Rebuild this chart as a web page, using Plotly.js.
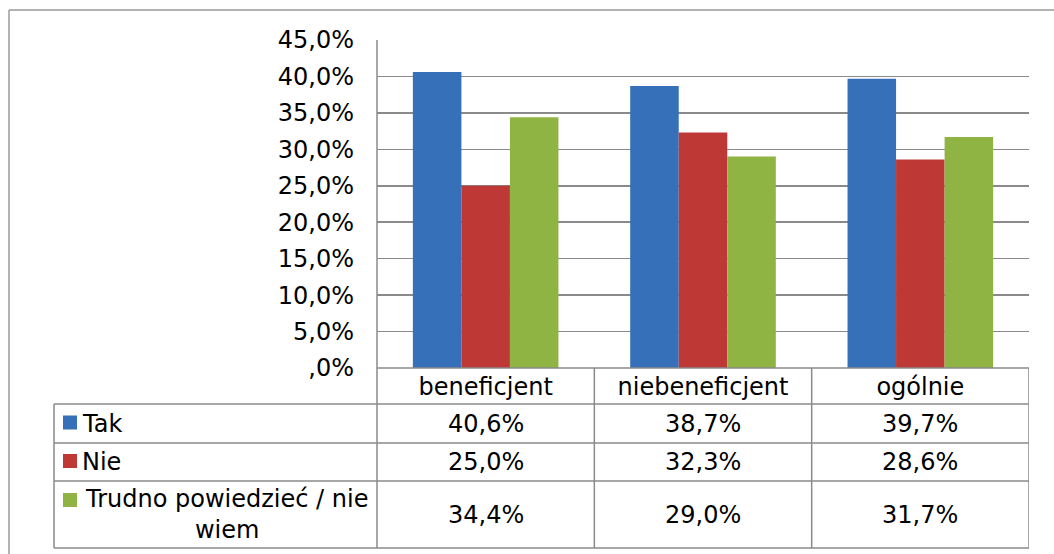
<!DOCTYPE html>
<html>
<head>
<meta charset="utf-8">
<script src="https://cdn.plot.ly/plotly-3.0.1.min.js"></script>
<style>html,body{margin:0;padding:0;background:#fff;}#chart{width:1054px;height:554px;}</style>
</head>
<body>
<div id="chart"></div>
<script>
// ---- data ----
const categories = ["beneficjent", "niebeneficjent", "ogólnie"];
const seriesNames = ["Tak", "Nie", "Trudno powiedzieć / nie<br>wiem"];
const takValues = [40.6, 38.7, 39.7];
const nieValues = [25.0, 32.3, 28.6];
const trudnoValues = [34.4, 29.0, 31.7];
const yTickVals = [0, 5, 10, 15, 20, 25, 30, 35, 40, 45];
const yTickText = [",0%", "5,0%", "10,0%", "15,0%", "20,0%", "25,0%", "30,0%", "35,0%", "40,0%", "45,0%"];

// ---- styling ----
const colors = ["#3670B9", "#BE3835", "#8FB444"];
const lineColor = "#8a8a8a";
const font = "DejaVu Sans, Verdana, sans-serif";
const fs = 24;

const W = 1054, H = 554;
const M = {l: 377, r: 25, t: 40, b: 186};
const pw = W - M.l - M.r, ph = H - M.t - M.b;
const px = x => (x - M.l) / pw;           // pixel -> paper x
const py = y => (H - M.b - y) / ph;        // pixel -> paper y

const allSeries = [takValues, nieValues, trudnoValues];
const traces = allSeries.map((vals, i) => ({
  type: "bar",
  x: categories,
  y: vals,
  name: seriesNames[i],
  marker: {color: colors[i], line: {width: 0}},
  hoverinfo: "skip"
}));

// table geometry (pixels)
const tblLeft = 54, headerTop = 368, rowTops = [404, 443, 481], tblBottom = 548;
const rowBottoms = [443, 481, 548];

const shapes = [];
const hline = (y, x0, x1) => shapes.push({type: "line", xref: "paper", yref: "paper", x0: px(x0), x1: px(x1), y0: py(y), y1: py(y), line: {color: lineColor, width: 1.5}});
// outer chart frame (top + left)
shapes.push({type: "line", xref: "paper", yref: "paper", x0: px(9), x1: px(1060), y0: py(10), y1: py(10), line: {color: "#9a9a9a", width: 1.5}});
shapes.push({type: "line", xref: "paper", yref: "paper", x0: px(9), x1: px(9), y0: py(10), y1: py(560), line: {color: "#9a9a9a", width: 1.5}});
// table horizontal lines
hline(headerTop, M.l, W - M.r);
rowTops.forEach(y => hline(y, tblLeft, W - M.r));
hline(tblBottom, tblLeft, W - M.r);
// vertical lines
shapes.push({type: "line", xref: "paper", yref: "paper", x0: px(tblLeft), x1: px(tblLeft), y0: py(rowTops[0]), y1: py(tblBottom), line: {color: lineColor, width: 1.5}});
shapes.push({type: "line", xref: "paper", yref: "paper", x0: 0, x1: 0, y0: 1, y1: py(tblBottom), line: {color: lineColor, width: 1.5}});
[0.5, 1.5, 2.5].forEach(xv => shapes.push({type: "line", xref: "x", yref: "paper", x0: xv, x1: xv, y0: 0, y1: py(tblBottom), line: {color: lineColor, width: 1.5}}));

const annotations = [];
const fmt = v => v.toFixed(1).replace(".", ",") + "%";
const rowCenters = rowTops.map((t, i) => (t + rowBottoms[i]) / 2);
allSeries.forEach((vals, i) => {
  vals.forEach((v, j) => {
    annotations.push({xref: "x", yref: "paper", x: categories[j], y: py(rowCenters[i]), text: fmt(v), showarrow: false, xanchor: "center", yanchor: "middle", font: {family: font, size: fs, color: "#000"}});
  });
  // legend key squares
  const sqC = i < 2 ? rowCenters[i] - 1 : 500;
  shapes.push({type: "rect", xref: "paper", yref: "paper", x0: px(63), x1: px(77), y0: py(sqC - 7), y1: py(sqC + 7), fillcolor: colors[i], line: {width: 0}});
});
// legend labels
annotations.push({xref: "paper", yref: "paper", x: px(80), y: py(rowCenters[0]), text: seriesNames[0], showarrow: false, xanchor: "left", yanchor: "middle", font: {family: font, size: fs, color: "#000"}});
annotations.push({xref: "paper", yref: "paper", x: px(80), y: py(rowCenters[1]), text: seriesNames[1], showarrow: false, xanchor: "left", yanchor: "middle", font: {family: font, size: fs, color: "#000"}});
annotations.push({xref: "paper", yref: "paper", x: px(226), y: py(rowCenters[2]), text: seriesNames[2], showarrow: false, xanchor: "center", yanchor: "middle", align: "center", font: {family: font, size: fs, color: "#000"}});

const layout = {
  width: W, height: H,
  margin: M,
  paper_bgcolor: "#fff", plot_bgcolor: "#fff",
  showlegend: false,
  barmode: "group",
  bargap: 0.33,
  bargroupgap: 0,
  font: {family: font, size: fs, color: "#000"},
  xaxis: {type: "category", range: [-0.5, 2.5], showgrid: false, zeroline: false, showline: false, ticks: "", tickfont: {family: font, size: fs, color: "#000"}, ticklabelstandoff: 2, fixedrange: true},
  yaxis: {range: [0, 45], tickvals: yTickVals, ticktext: yTickText, showgrid: true, gridcolor: lineColor, gridwidth: 1.5, zeroline: false, showline: false, ticks: "", ticklabelstandoff: 22, tickfont: {family: font, size: fs, color: "#000"}, fixedrange: true},
  shapes: shapes,
  annotations: annotations
};

Plotly.newPlot("chart", traces, layout, {displayModeBar: false, staticPlot: true});
</script>
</body>
</html>
